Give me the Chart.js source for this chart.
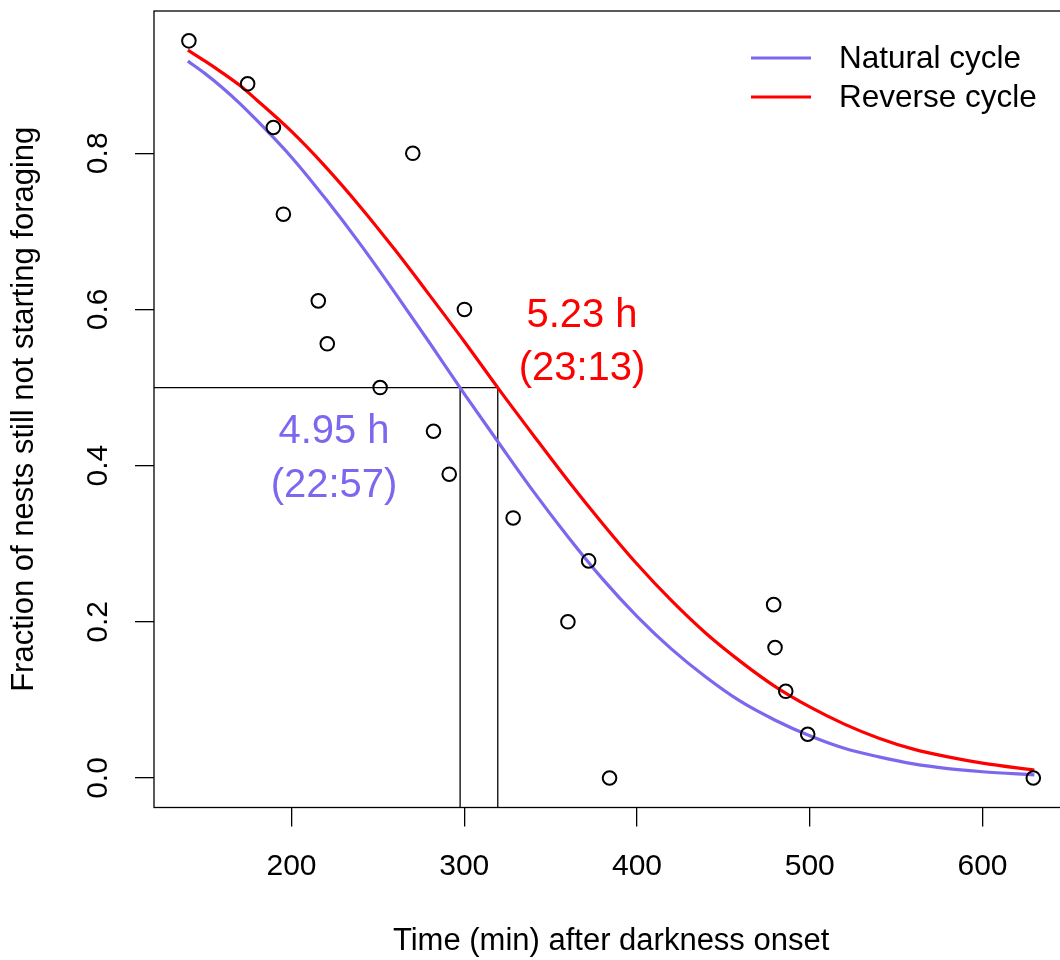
<!DOCTYPE html>
<html>
<head>
<meta charset="utf-8">
<script src="https://cdn.jsdelivr.net/npm/chart.js@4.4.1/dist/chart.umd.min.js"></script>
<style>
  html, body { margin: 0; padding: 0; background: #fff; overflow: hidden; }
  #wrap { position: relative; width: 1060px; height: 960px; overflow: hidden; }
  canvas { display: block; }
</style>
</head>
<body>
<div id="wrap"><canvas id="chart" width="1077" height="960"></canvas></div>
<script>
// observed nests: time after darkness onset (min) vs fraction not yet foraging
const obsTime = [140.6, 174.6, 189.5, 195.3, 215.5, 220.7, 251.3, 270.2, 282.2, 291.3, 300.1, 328.3, 360.0, 372.0, 384.1, 479.1, 479.9, 486.1, 498.8, 629.4];
const obsFraction = [0.944, 0.889, 0.833, 0.722, 0.611, 0.556, 0.5, 0.8, 0.444, 0.389, 0.6, 0.333, 0.2, 0.278, 0.0, 0.222, 0.167, 0.111, 0.056, 0.0];

// fitted curves
const curveTime = [140, 150, 160, 170, 180, 200, 220, 240, 260, 280, 300, 320, 340, 360, 380, 400, 420, 440, 460, 480, 500, 520, 540, 560, 580, 600, 630];
const naturalFit = [0.918, 0.902, 0.884, 0.864, 0.842, 0.795, 0.741, 0.683, 0.621, 0.557, 0.492, 0.429, 0.367, 0.309, 0.255, 0.207, 0.165, 0.129, 0.098, 0.074, 0.054, 0.038, 0.027, 0.018, 0.012, 0.008, 0.004];
const reverseFit = [0.932, 0.918, 0.903, 0.887, 0.868, 0.828, 0.782, 0.731, 0.676, 0.618, 0.559, 0.498, 0.439, 0.381, 0.326, 0.274, 0.227, 0.185, 0.149, 0.117, 0.091, 0.069, 0.051, 0.037, 0.027, 0.019, 0.010];

// time where each curve crosses one half
const medianNatural = 297.6;
const medianReverse = 319.4;
const halfLevel = 0.5;

const xTicks = [200, 300, 400, 500, 600];
const yTicks = [0, 0.2, 0.4, 0.6, 0.8];
const legendLabels = ['Natural cycle', 'Reverse cycle'];
const naturalNote = ['4.95 h', '(22:57)'];
const reverseNote = ['5.23 h', '(23:13)'];

const xMin = 120.4, xMax = 649.6;
const yMin = -0.0378, yMax = 0.9822;

const FONT = "'Liberation Sans', Arial, Helvetica, sans-serif";
const natColor = '#7B68EE';
const revColor = '#FF0000';

const toXY = (xs, ys) => xs.map((x, i) => ({ x: x, y: ys[i] }));

// box, legend and text notes, the way base R draws them
const extras = {
  id: 'extras',
  afterDraw(chart) {
    const { ctx, chartArea: a } = chart;
    ctx.save();
    ctx.strokeStyle = '#000';
    ctx.lineWidth = 1.3;
    ctx.strokeRect(a.left, a.top, a.right - a.left, a.bottom - a.top);

    // legend
    const cols = [natColor, revColor];
    const rows = [58, 97];
    ctx.lineWidth = 3;
    ctx.font = '31.5px ' + FONT;
    ctx.textAlign = 'left';
    ctx.textBaseline = 'alphabetic';
    legendLabels.forEach((lab, i) => {
      ctx.strokeStyle = cols[i];
      ctx.beginPath();
      ctx.moveTo(751, rows[i]);
      ctx.lineTo(811, rows[i]);
      ctx.stroke();
      ctx.fillStyle = '#000';
      ctx.fillText(lab, 839, rows[i] + 10);
    });

    // median notes
    ctx.font = '40px ' + FONT;
    ctx.textAlign = 'center';
    ctx.fillStyle = natColor;
    ctx.fillText(naturalNote[0], 334, 443);
    ctx.fillText(naturalNote[1], 334, 497);
    ctx.fillStyle = revColor;
    ctx.fillText(reverseNote[0], 582, 327);
    ctx.fillText(reverseNote[1], 582, 380);
    ctx.restore();
  }
};

new Chart(document.getElementById('chart'), {
  type: 'scatter',
  data: {
    datasets: [
      {
        label: 'nests',
        data: toXY(obsTime, obsFraction),
        pointStyle: 'circle',
        pointRadius: 6.8,
        borderWidth: 2,
        borderColor: '#000',
        backgroundColor: 'rgba(0,0,0,0)',
        order: 1
      },
      {
        label: legendLabels[0],
        data: toXY(curveTime, naturalFit),
        showLine: true,
        pointRadius: 0,
        borderColor: natColor,
        borderWidth: 3.2,
        cubicInterpolationMode: 'monotone',
        order: 3
      },
      {
        label: legendLabels[1],
        data: toXY(curveTime, reverseFit),
        showLine: true,
        pointRadius: 0,
        borderColor: revColor,
        borderWidth: 3.2,
        cubicInterpolationMode: 'monotone',
        order: 2
      },
      {
        label: 'half',
        data: [{ x: xMin, y: halfLevel }, { x: medianReverse, y: halfLevel }, { x: medianReverse, y: yMin }],
        showLine: true, pointRadius: 0, borderColor: '#000', borderWidth: 1.3, tension: 0,
        order: 4
      },
      {
        label: 'half2',
        data: [{ x: medianNatural, y: halfLevel }, { x: medianNatural, y: yMin }],
        showLine: true, pointRadius: 0, borderColor: '#000', borderWidth: 1.3, tension: 0,
        order: 4
      }
    ]
  },
  options: {
    responsive: false,
    animation: false,
    events: [],
    devicePixelRatio: 1,
    layout: { padding: { top: 11, right: 2.5, left: 0, bottom: 0 } },
    plugins: {
      legend: { display: false },
      tooltip: { enabled: false }
    },
    scales: {
      x: {
        type: 'linear',
        min: xMin, max: xMax,
        afterBuildTicks: s => { s.ticks = xTicks.map(v => ({ value: v })); },
        afterFit: s => { s.height = 152.5; s.paddingLeft = 0; s.paddingRight = 0; },
        grid: { drawOnChartArea: false, drawTicks: true, tickLength: 19, color: '#000', lineWidth: 1.3 },
        border: { display: false },
        ticks: {
          color: '#000', padding: 22, maxRotation: 0, autoSkip: false,
          font: { family: FONT, size: 30 },
          callback: v => String(v)
        },
        title: {
          display: true, text: 'Time (min) after darkness onset', color: '#000',
          font: { family: FONT, size: 31 }, padding: { top: 0, bottom: 0 }
        }
      },
      y: {
        type: 'linear',
        min: yMin, max: yMax,
        afterBuildTicks: s => { s.ticks = yTicks.map(v => ({ value: v })); },
        afterFit: s => { s.width = 154; s.paddingTop = 0; s.paddingBottom = 0; },
        grid: { drawOnChartArea: false, drawTicks: true, tickLength: 19, color: '#000', lineWidth: 1.3 },
        border: { display: false },
        ticks: {
          color: '#000', padding: 15.5, minRotation: 90, maxRotation: 90, crossAlign: 'center',
          font: { family: FONT, size: 30 },
          callback: v => v.toFixed(1)
        },
        title: {
          display: true, text: 'Fraction of nests still not starting foraging', color: '#000',
          font: { family: FONT, size: 31 }, padding: { top: 5.7, bottom: 0 }
        }
      }
    }
  },
  plugins: [extras]
});
</script>
</body>
</html>
